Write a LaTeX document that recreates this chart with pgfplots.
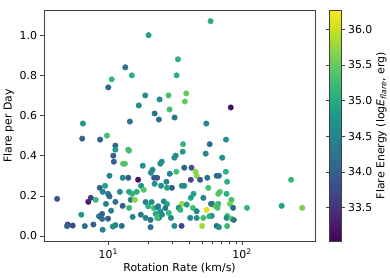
\documentclass[border=0pt]{standalone}
\usepackage{pgfplots}
\pgfplotsset{compat=1.18}
\usepackage{pgfplotstable}
\usepackage{fontspec}
\setmainfont{DejaVu Sans}
\pgfplotstableread{
x y c
20.0 1.00 34.9
13.4 0.84 34.2
15.0 0.80 35.1
10.6 0.78 35.2
10.0 0.74 34.1
33.2 0.88 35.1
32.4 0.80 35.1
18.9 0.70 34.6
24.2 0.68 34.6
28.2 0.70 35.3
28.7 0.63 35.3
16.9 0.65 34.6
22.2 0.61 34.2
23.9 0.58 34.2
31.3 0.59 34.3
14.5 0.57 34.2
6.46 0.56 34.7
6.38 0.485 34.0
8.68 0.48 34.0
9.78 0.50 35.3
58.2 1.07 35.1
38.3 0.71 35.5
37.4 0.67 35.5
82.4 0.64 33.2
54.1 0.56 34.5
76.0 0.48 34.6
36.2 0.457 35.2
57.3 0.457 34.2
36.0 0.42 34.8
31.9 0.40 34.6
31.2 0.39 34.6
53.5 0.41 34.5
25.1 0.37 34.6
24.5 0.36 34.6
32.3 0.32 35.3
28.8 0.31 34.5
37.0 0.34 34.0
41.9 0.34 33.9
44.9 0.32 35.7
45.8 0.30 35.7
41.4 0.28 33.7
48.6 0.28 33.9
55.0 0.29 34.2
56.0 0.24 35.3
23.2 0.29 33.9
27.2 0.27 34.5
29.9 0.24 33.9
35.5 0.25 34.6
37.0 0.25 34.6
24.8 0.25 34.6
27.5 0.24 34.9
43.4 0.21 34.9
41.4 0.19 34.9
51.4 0.19 34.5
35.5 0.16 35.8
33.6 0.14 34.6
34.6 0.13 35.2
42.9 0.14 35.3
54.4 0.13 36.1
60.3 0.16 35.0
51.4 0.09 35.3
31.2 0.05 34.6
35.3 0.05 33.7
50.3 0.05 35.8
45.8 0.09 34.6
41.0 0.09 34.5
71.1 0.39 34.6
75.7 0.32 35.1
64.6 0.30 34.2
67.2 0.30 34.2
77.4 0.27 35.1
68.3 0.22 35.4
66.4 0.21 35.4
76.6 0.21 35.1
83.4 0.18 35.3
81.1 0.16 35.6
85.8 0.14 34.2
109 0.14 35.2
66.4 0.16 35.2
62.8 0.15 35.5
65.6 0.14 35.3
58.6 0.16 34.3
59.3 0.10 34.5
77.8 0.10 35.4
76.6 0.09 34.6
83.4 0.086 35.5
86.8 0.08 34.3
64.6 0.05 34.2
67.2 0.044 34.6
77.4 0.049 35.2
233 0.28 35.2
198 0.15 34.9
282 0.14 35.6
4.14 0.185 33.9
7.4 0.19 33.6
7.08 0.17 33.3
8.05 0.18 35.2
8.62 0.24 34.1
9.07 0.22 34.5
9.46 0.25 34.9
6.28 0.106 34.8
8.53 0.098 34.2
8.98 0.085 34.2
4.97 0.057 33.6
4.91 0.049 34.1
5.41 0.052 33.7
6.67 0.049 34.2
7.74 0.057 34.0
9.07 0.031 34.5
11.3 0.45 34.0
11.3 0.43 34.8
10.9 0.40 34.0
11.0 0.37 34.0
14.1 0.43 35.3
14.3 0.425 35.3
12.9 0.36 35.4
13.3 0.36 35.4
18.1 0.35 34.6
21.4 0.33 34.5
20.8 0.315 34.6
16.7 0.28 33.2
14.1 0.29 33.9
17.6 0.25 34.7
18.4 0.23 35.4
22.0 0.29 33.9
22.2 0.26 34.6
10.2 0.30 34.5
12.8 0.29 34.6
9.95 0.21 34.4
10.2 0.197 34.1
12.2 0.22 34.6
14.3 0.22 34.9
15.1 0.21 35.1
14.7 0.18 34.5
15.8 0.18 35.7
16.3 0.22 35.1
11.3 0.17 34.2
9.6 0.16 34.4
12.8 0.15 34.0
14.3 0.14 35.2
10.5 0.126 34.4
8.98 0.11 34.1
15.2 0.095 34.5
17.5 0.106 34.3
9.95 0.086 34.0
11.3 0.054 34.5
10.8 0.047 34.6
12.6 0.05 34.2
20.7 0.044 34.2
19.0 0.169 34.4
19.9 0.148 35.1
21.1 0.169 34.6
21.9 0.139 35.3
23.6 0.148 34.3
19.0 0.09 34.5
20.7 0.08 34.2
22.6 0.11 35.0
23.9 0.09 34.6
23.2 0.143 34.5
24.5 0.123 34.8
23.2 0.09 35.3
26.0 0.172 34.5
27.5 0.159 34.9
26.7 0.139 34.3
25.2 0.106 34.6
28.3 0.115 35.2
29.4 0.09 34.5
38.6 0.156 34.8
45.8 0.123 34.5
57.0 0.098 35.1
}\datatable
\begin{document}
\begin{tikzpicture}
\begin{axis}[
  scale only axis,
  width=274pt, height=234pt,
  xmode=log,
  xmin=3.3, xmax=353,
  ymin=-0.028, ymax=1.126,
  xtick={10,100},
  xticklabels={10\textsuperscript{1},10\textsuperscript{2}},
  ytick={0,0.2,0.4,0.6,0.8,1.0},
  yticklabel style={/pgf/number format/.cd, fixed, fixed zerofill, precision=1},
  /pgf/number format/assume math mode=true,
  tick align=outside,
  tick pos=left,
  major tick length=3.5pt,
  minor tick length=2pt,
  axis line style={black!75},
  every tick/.style={black!75},
  tick label style={font=\fontsize{11}{13}\selectfont},
  label style={font=\fontsize{11}{13}\selectfont},
  xlabel={Rotation Rate (km/s)},
  ylabel={Flare per Day},
  xlabel style={yshift=2pt},
  ylabel style={yshift=-1pt},
  colormap/viridis,
  point meta min=33.02, point meta max=36.27,
  colorbar,
  colorbar style={
    width=11.6pt,
    at={(parent axis.north east)}, anchor=north west, xshift=6pt,
    ytick={33.5,34.0,34.5,35.0,35.5,36.0},
    yticklabel style={/pgf/number format/.cd, fixed, fixed zerofill, precision=1, /pgf/number format/assume math mode=true},
    tick label style={font=\fontsize{11}{13}\selectfont},
    ylabel={Flare Energy (log\textit{E}\textsubscript{\textit{flare}}, erg)},
    ylabel style={font=\fontsize{11}{13}\selectfont},
    ylabel shift=-3pt,
    axis line style={black!75},
    major tick length=3.5pt,
    tick align=outside,
  },
]
\addplot[scatter, only marks, mark=*, mark size=2.8pt,
  scatter/use mapped color={draw=mapped color, fill=mapped color},
  point meta=explicit] table[x=x, y=y, meta=c] {\datatable};
\end{axis}
\path ([yshift=10pt]current axis.north);
\path ([yshift=-36pt]current axis.south);
\end{tikzpicture}
\end{document}
